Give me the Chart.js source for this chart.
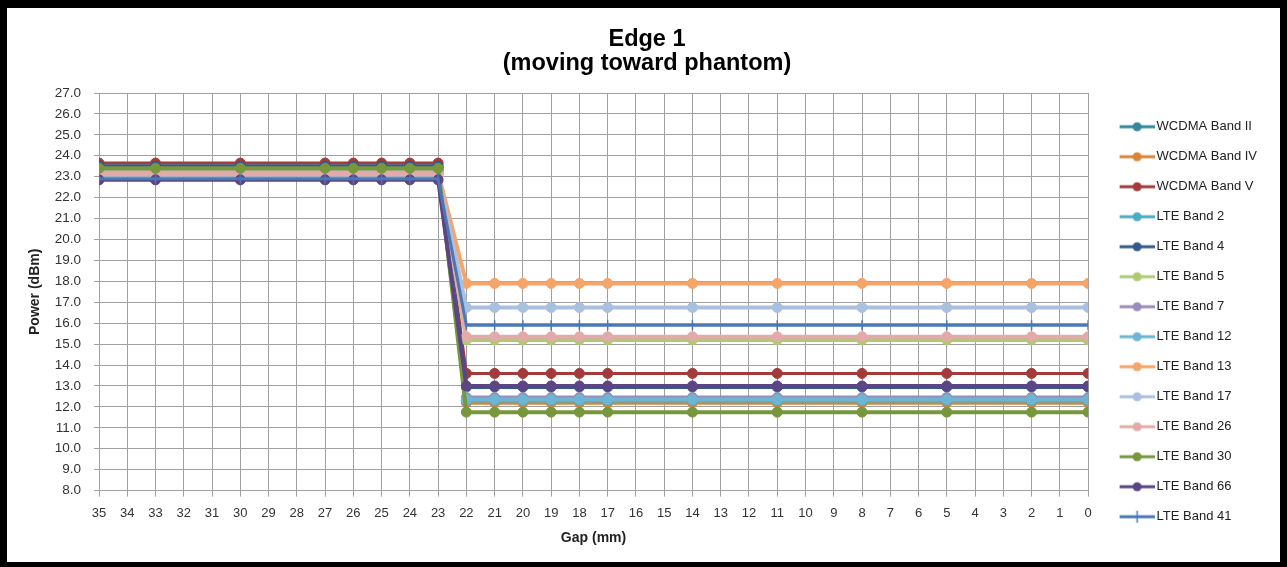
<!DOCTYPE html>
<html>
<head>
<meta charset="utf-8">
<script src="https://cdn.jsdelivr.net/npm/chart.js@4.4.1/dist/chart.umd.min.js"></script>
<style>
  html, body { margin: 0; padding: 0; background: #000; }
  #wrap { position: absolute; left: 7px; top: 8px; width: 1273px; height: 554px; background: #fff; }
</style>
</head>
<body>
<div id="wrap"><canvas id="edgeChart"></canvas></div>
<script>
// gap (mm) where power was measured
const gaps = [35, 33, 30, 27, 26, 25, 24, 23, 22, 21, 20, 19, 18, 17, 14, 11, 8, 5, 2, 0];

const bandNames = ['WCDMA Band II', 'WCDMA Band IV', 'WCDMA Band V', 'LTE Band 2', 'LTE Band 4',
  'LTE Band 5', 'LTE Band 7', 'LTE Band 12', 'LTE Band 13', 'LTE Band 17', 'LTE Band 26',
  'LTE Band 30', 'LTE Band 66', 'LTE Band 41'];

const wcdmaII  = [23.45, 23.45, 23.45, 23.45, 23.45, 23.45, 23.45, 23.45, 12.3, 12.3, 12.3, 12.3, 12.3, 12.3, 12.3, 12.3, 12.3, 12.3, 12.3, 12.3];
const wcdmaIV  = [23.25, 23.25, 23.25, 23.25, 23.25, 23.25, 23.25, 23.25, 12.2, 12.2, 12.2, 12.2, 12.2, 12.2, 12.2, 12.2, 12.2, 12.2, 12.2, 12.2];
const wcdmaV   = [23.65, 23.65, 23.65, 23.65, 23.65, 23.65, 23.65, 23.65, 13.6, 13.6, 13.6, 13.6, 13.6, 13.6, 13.6, 13.6, 13.6, 13.6, 13.6, 13.6];
const lte2     = [23.4, 23.4, 23.4, 23.4, 23.4, 23.4, 23.4, 23.4, 12.3, 12.3, 12.3, 12.3, 12.3, 12.3, 12.3, 12.3, 12.3, 12.3, 12.3, 12.3];
const lte4     = [23.5, 23.5, 23.5, 23.5, 23.5, 23.5, 23.5, 23.5, 12.95, 12.95, 12.95, 12.95, 12.95, 12.95, 12.95, 12.95, 12.95, 12.95, 12.95, 12.95];
const lte5     = [23.3, 23.3, 23.3, 23.3, 23.3, 23.3, 23.3, 23.3, 15.2, 15.2, 15.2, 15.2, 15.2, 15.2, 15.2, 15.2, 15.2, 15.2, 15.2, 15.2];
const lte7     = [23.2, 23.2, 23.2, 23.2, 23.2, 23.2, 23.2, 23.2, 12.45, 12.45, 12.45, 12.45, 12.45, 12.45, 12.45, 12.45, 12.45, 12.45, 12.45, 12.45];
const lte12    = [23.35, 23.35, 23.35, 23.35, 23.35, 23.35, 23.35, 23.35, 12.35, 12.35, 12.35, 12.35, 12.35, 12.35, 12.35, 12.35, 12.35, 12.35, 12.35, 12.35];
const lte13    = [23.2, 23.2, 23.2, 23.2, 23.2, 23.2, 23.2, 23.2, 17.9, 17.9, 17.9, 17.9, 17.9, 17.9, 17.9, 17.9, 17.9, 17.9, 17.9, 17.9];
const lte17    = [23.1, 23.1, 23.1, 23.1, 23.1, 23.1, 23.1, 23.1, 16.75, 16.75, 16.75, 16.75, 16.75, 16.75, 16.75, 16.75, 16.75, 16.75, 16.75, 16.75];
const lte26    = [23.15, 23.15, 23.15, 23.15, 23.15, 23.15, 23.15, 23.15, 15.35, 15.35, 15.35, 15.35, 15.35, 15.35, 15.35, 15.35, 15.35, 15.35, 15.35, 15.35];
const lte30    = [23.4, 23.4, 23.4, 23.4, 23.4, 23.4, 23.4, 23.4, 11.75, 11.75, 11.75, 11.75, 11.75, 11.75, 11.75, 11.75, 11.75, 11.75, 11.75, 11.75];
const lte66    = [22.85, 22.85, 22.85, 22.85, 22.85, 22.85, 22.85, 22.85, 13.0, 13.0, 13.0, 13.0, 13.0, 13.0, 13.0, 13.0, 13.0, 13.0, 13.0, 13.0];
const lte41    = [22.9, 22.9, 22.9, 22.9, 22.9, 22.9, 22.9, 22.9, 15.9, 15.9, 15.9, 15.9, 15.9, 15.9, 15.9, 15.9, 15.9, 15.9, 15.9, 15.9];

const series = [wcdmaII, wcdmaIV, wcdmaV, lte2, lte4, lte5, lte7, lte12, lte13, lte17, lte26, lte30, lte66, lte41];
const colors = ['#35879a', '#d8843a', '#a33b3b', '#4bacc6', '#345a8a', '#aecb72', '#9a8cbb',
  '#6db6d3', '#f5a46a', '#a9c0de', '#e3aaaa', '#77973d', '#5b4585', '#4a78b5'];

// legend icon: short line with marker like Excel
function makeIcon(color, cross) {
  const c = document.createElement('canvas');
  c.width = 54; c.height = 14;
  const g = c.getContext('2d');
  g.strokeStyle = color;
  g.lineWidth = 3;
  g.beginPath(); g.moveTo(19, 7); g.lineTo(54, 7); g.stroke();
  if (cross) {
    g.lineWidth = 1.5;
    g.beginPath(); g.moveTo(36.5, 1); g.lineTo(36.5, 13); g.stroke();
  } else {
    g.fillStyle = color;
    g.beginPath(); g.arc(36.5, 7, 4.5, 0, Math.PI * 2); g.fill();
  }
  return c;
}
const icons = colors.map((c, i) => makeIcon(c, i === 13));

const datasets = series.map((vals, i) => ({
  label: bandNames[i],
  data: vals.map((v, j) => ({ x: gaps[j], y: v })),
  borderColor: colors[i],
  backgroundColor: colors[i],
  borderWidth: i === 13 || i === 2 ? 3 : 4,
  pointStyle: i === 13 ? 'line' : 'circle',
  pointRotation: i === 13 ? 90 : 0,
  pointRadius: 5,
  pointBorderWidth: i === 13 ? 1.5 : 1,
  order: series.length - i
}));

const ctx = document.getElementById('edgeChart').getContext('2d');
const edgeChart = new Chart(ctx, {
  type: 'line',
  data: { datasets: datasets },
  options: {
    responsive: true,
    maintainAspectRatio: false,
    animation: false,
    layout: { padding: { top: 0, left: 20, right: 13, bottom: 15 } },
    plugins: {
      title: {
        display: true,
        text: ['Edge 1', '(moving toward phantom)'],
        color: '#000',
        font: { family: 'Liberation Sans, Arial, sans-serif', size: 23.5, weight: 'bold', lineHeight: 24 / 23.5 },
        padding: { top: 20, bottom: 17 }
      },
      legend: {
        position: 'right',
        align: 'center',
        title: { display: true, text: '', font: { size: 12 }, padding: { top: 74, bottom: 0 } },
        labels: {
          usePointStyle: true,
          pointStyleWidth: 45,
          padding: 17,
          color: '#222',
          font: { family: 'Liberation Sans, Arial, sans-serif', size: 13 },
          sort: (a, b) => a.datasetIndex - b.datasetIndex,
          generateLabels: (chart) => {
            const items = Chart.defaults.plugins.legend.labels.generateLabels(chart);
            items.forEach(it => { it.pointStyle = icons[it.datasetIndex]; it.rotation = 0; });
            return items;
          }
        }
      },
      tooltip: { enabled: false }
    },
    scales: {
      x: {
        type: 'linear',
        reverse: true,
        min: 0,
        max: 35,
        afterFit: (s) => { s.height = 56.4; },
        grid: { color: '#a0a0a0', tickLength: 6 },
        border: { color: '#a0a0a0' },
        ticks: {
          stepSize: 1,
          autoSkip: false,
          maxRotation: 0,
          padding: 9,
          color: '#333',
          font: { family: 'Liberation Sans, Arial, sans-serif', size: 13 }
        },
        title: {
          display: true,
          text: 'Gap (mm)',
          color: '#222',
          padding: 0,
          font: { family: 'Liberation Sans, Arial, sans-serif', size: 14, weight: 'bold' }
        }
      },
      y: {
        min: 8,
        max: 27,
        afterFit: (s) => { s.width = 72; },
        grid: { color: '#a0a0a0', tickLength: 5 },
        border: { color: '#a0a0a0' },
        ticks: {
          stepSize: 1,
          padding: 13,
          color: '#333',
          font: { family: 'Liberation Sans, Arial, sans-serif', size: 13.5 },
          callback: (v) => v.toFixed(1)
        },
        title: {
          display: true,
          text: 'Power (dBm)',
          color: '#222',
          padding: 0,
          font: { family: 'Liberation Sans, Arial, sans-serif', size: 14, weight: 'bold' }
        }
      }
    }
  }
});
</script>
</body>
</html>
